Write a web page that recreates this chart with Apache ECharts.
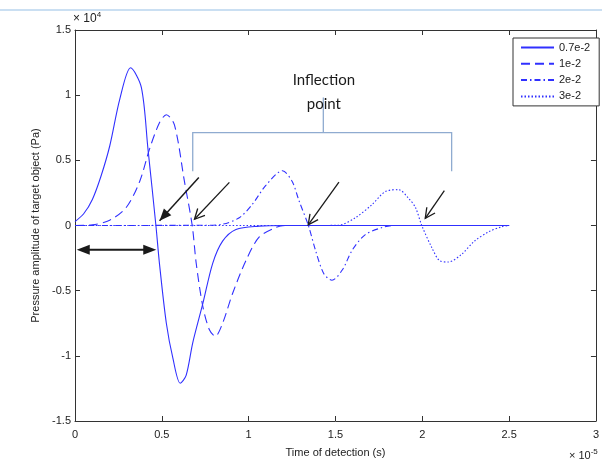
<!DOCTYPE html>
<html><head><meta charset="utf-8">
<script src="https://cdn.jsdelivr.net/npm/echarts@6/dist/echarts.min.js"></script>
<style>html,body{margin:0;padding:0;background:#fff}#c{width:602px;height:463px}</style>
</head><body><div id="c"></div>
<script>
// x in units of 1e-5 s, y in units of 1e4 Pa
const seriesNames = ['0.7e-2', '1e-2', '2e-2', '3e-2'];
const xTicks = [0, 0.5, 1, 1.5, 2, 2.5, 3];
const yTicks = [-1.5, -1, -0.5, 0, 0.5, 1, 1.5];

const t1 = [0, 0.05, 0.1, 0.15, 0.2, 0.258, 0.32, 0.382, 0.42, 0.466, 0.487, 0.526, 0.564, 0.606, 0.64, 0.678, 0.736, 0.793, 0.85, 0.927, 1.06, 1.2, 2.5];
const v1 = [0.03, 0.09, 0.2, 0.38, 0.61, 0.97, 1.21, 1.06, 0.59, 0, -0.3, -0.75, -1.02, -1.21, -1.15, -0.9, -0.6, -0.29, -0.12, -0.03, -0.005, 0, 0];

const t2 = [0, 0.1, 0.2, 0.296, 0.373, 0.43, 0.487, 0.526, 0.573, 0.63, 0.675, 0.698, 0.736, 0.774, 0.808, 0.85, 0.908, 0.984, 1.06, 1.157, 1.21, 2.5];
const v2 = [0, 0.005, 0.04, 0.14, 0.34, 0.59, 0.79, 0.85, 0.77, 0.34, 0, -0.29, -0.62, -0.8, -0.85, -0.75, -0.52, -0.27, -0.09, -0.015, 0, 0];

const t3 = [0, 0.75, 0.85, 0.946, 1.02, 1.1, 1.195, 1.25, 1.29, 1.344, 1.385, 1.433, 1.48, 1.54, 1.596, 1.672, 1.77, 1.83, 2.5];
const v3 = [0, 0.002, 0.01, 0.06, 0.16, 0.31, 0.42, 0.34, 0.19, 0, -0.19, -0.37, -0.42, -0.34, -0.19, -0.07, -0.015, 0, 0];

const t4 = [0, 1.4, 1.52, 1.615, 1.71, 1.787, 1.864, 1.92, 1.96, 1.997, 2.055, 2.1, 2.15, 2.227, 2.3, 2.38, 2.456, 2.5];
const v4 = [0, 0.0, 0.003, 0.06, 0.16, 0.26, 0.275, 0.21, 0.14, 0, -0.17, -0.27, -0.28, -0.22, -0.12, -0.05, -0.01, 0];

// annotations in data units
const arrowsFilled = [[[0.713, 0.369], [0.487, 0.036]]];
const arrowsOpen = [
  [[0.889, 0.331], [0.688, 0.048]],
  [[1.52, 0.333], [1.343, 0.005]],
  [[2.127, 0.267], [2.017, 0.055]]
];
const doubleArrow = [[0.01, -0.187], [0.468, -0.187]];
const bracketStem = [[1.43, 0.983], [1.43, 0.712]];
const bracket = [[0.678, 0.417], [0.678, 0.712], [2.169, 0.712], [2.169, 0.417]];
const labelLines = ['Inflection', 'point'];
const labelPos = [[1.433, 1.114], [1.433, 0.932]];

const zip = (a, b) => a.map((x, i) => [x, b[i]]);
const lineColor = '#3030ff';
const axisColor = '#333';
const font = '"Liberation Sans", Arial, sans-serif';

const chart = echarts.init(document.getElementById('c'));
const mkX = (pos, show) => ({
  type: 'value', position: pos, min: xTicks[0], max: xTicks[xTicks.length - 1], interval: 0.5,
  axisLine: { show: true, onZero: false, lineStyle: { color: axisColor, width: 1 } },
  axisTick: { show: true, inside: true, length: 5, lineStyle: { color: axisColor } },
  axisLabel: { show: show, color: '#222', fontSize: 11, fontFamily: font, margin: 8 },
  splitLine: { show: false },
  name: show ? 'Time of detection (s)' : '', nameLocation: 'middle', nameGap: 26,
  nameTextStyle: { color: '#222', fontSize: 11, fontFamily: font }
});
const mkY = (pos, show) => ({
  type: 'value', position: pos, min: yTicks[0], max: yTicks[yTicks.length - 1], interval: 0.5,
  axisLine: { show: true, onZero: false, lineStyle: { color: axisColor, width: 1 } },
  axisTick: { show: true, inside: true, length: 5, lineStyle: { color: axisColor } },
  axisLabel: { show: show, color: '#222', fontSize: 11, fontFamily: font, margin: 4 },
  splitLine: { show: false },
  name: show ? 'Pressure amplitude of target object (Pa)' : '', nameLocation: 'middle', nameGap: 23,
  nameTextStyle: { color: '#222', fontSize: 11, fontFamily: font }
});
const styles = ['solid', [9, 5], [6, 3, 1.5, 3], [1.5, 2]];
const datas = [zip(t1, v1), zip(t2, v2), zip(t3, v3), zip(t4, v4)];

chart.setOption({
  animation: false,
  grid: { left: 75, right: 4, top: 30, bottom: 37 },
  xAxis: [mkX('bottom', true), mkX('top', false)],
  yAxis: [mkY('left', true), mkY('right', false)],
  legend: {
    orient: 'vertical', left: 513, top: 38,
    padding: [4, 9, 4, 7], itemWidth: 33, itemHeight: 12, itemGap: 5.3,
    borderColor: '#333', borderWidth: 1, backgroundColor: '#fff',
    itemStyle: { color: 'rgba(0,0,0,0)', borderWidth: 0, opacity: 0 },
    textStyle: { color: '#222', fontSize: 11, fontFamily: font },
    data: seriesNames
  },
  series: seriesNames.map((n, i) => ({
    name: n, type: 'line', data: datas[i], symbol: 'none', smooth: 0.3,
    lineStyle: { color: lineColor, width: 1.1, type: styles[i] },
    itemStyle: { color: lineColor }, z: i === 0 ? 4 : 3
  }))
});

function px(p) { return chart.convertToPixel({ gridIndex: 0 }, p); }
function head(start, tip, L, w) {
  const a = px(start), b = px(tip);
  const dx = b[0] - a[0], dy = b[1] - a[1], len = Math.hypot(dx, dy);
  const ux = dx / len, uy = dy / len, nx = -uy, ny = ux;
  return [[b[0] - L * ux + w * nx, b[1] - L * uy + w * ny], b, [b[0] - L * ux - w * nx, b[1] - L * uy - w * ny]];
}
const g = [];
const arrowColor = '#1a1a1a';
g.push({ type: 'line', shape: { x1: 0, y1: 10, x2: 602, y2: 10 }, style: { stroke: '#b8d4ee', lineWidth: 1.5 } });
arrowsFilled.forEach(([s, t]) => {
  const a = px(s), b = px(t);
  g.push({ type: 'line', shape: { x1: a[0], y1: a[1], x2: b[0], y2: b[1] }, style: { stroke: arrowColor, lineWidth: 1.5 }, z: 10 });
  g.push({ type: 'polygon', shape: { points: head(s, t, 12, 5) }, style: { fill: arrowColor }, z: 10 });
});
arrowsOpen.forEach(([s, t]) => {
  const a = px(s), b = px(t);
  g.push({ type: 'line', shape: { x1: a[0], y1: a[1], x2: b[0], y2: b[1] }, style: { stroke: arrowColor, lineWidth: 1.3 }, z: 10 });
  g.push({ type: 'polyline', shape: { points: head(s, t, 10, 5) }, style: { stroke: arrowColor, lineWidth: 1.3, fill: null }, z: 10 });
});
{
  const [s, t] = doubleArrow; const a = px(s), b = px(t);
  g.push({ type: 'line', shape: { x1: a[0] + 6, y1: a[1], x2: b[0] - 6, y2: b[1] }, style: { stroke: arrowColor, lineWidth: 2 }, z: 10 });
  g.push({ type: 'polygon', shape: { points: head(s, t, 13, 5) }, style: { fill: arrowColor }, z: 10 });
  g.push({ type: 'polygon', shape: { points: head(t, s, 13, 5) }, style: { fill: arrowColor }, z: 10 });
}
g.push({ type: 'polyline', shape: { points: bracketStem.map(px) }, style: { stroke: '#8fabd0', lineWidth: 1.3, fill: null }, z: 10 });
g.push({ type: 'polyline', shape: { points: bracket.map(px) }, style: { stroke: '#8fabd0', lineWidth: 1.3, fill: null }, z: 10 });
labelLines.forEach((s, i) => {
  const p = px(labelPos[i]);
  g.push({ type: 'text', x: p[0], y: p[1], style: { text: s, fill: '#1a1a1a', font: '15px Lato, "Open Sans", sans-serif', textAlign: 'center', textVerticalAlign: 'middle' }, z: 10 });
});
// axis exponent labels
const tl = px([0, 1.5]);
g.push({ type: 'text', x: tl[0] - 2, y: tl[1] - 4, style: { text: '× 10{s|4}', rich: { s: { fontSize: 8, verticalAlign: 'top', padding: [0, 0, 7, 0] } }, fill: '#222', fontSize: 12, fontFamily: font, align: 'left', verticalAlign: 'bottom' } });
const br = px([3, -1.5]);
g.push({ type: 'text', x: br[0] - 27, y: br[1] + 42, style: { text: '× 10{s|-5}', rich: { s: { fontSize: 8, verticalAlign: 'top', padding: [0, 0, 7, 0] } }, fill: '#222', fontSize: 11, fontFamily: font, align: 'left', verticalAlign: 'bottom' } });
chart.setOption({ graphic: g });
</script>
</body></html>
